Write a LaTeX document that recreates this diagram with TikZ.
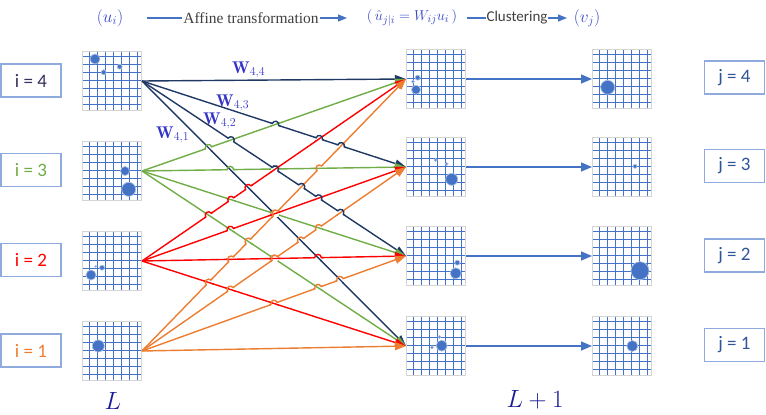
\documentclass[tikz,border=0pt]{standalone}
\usepackage{fontspec}
\newfontfamily\carlito{Carlito}
\newfontfamily\libserif{Liberation Serif}
\usetikzlibrary{arrows.meta}
\definecolor{lc0}{HTML}{203864}
\definecolor{lc1}{HTML}{70AD47}
\definecolor{lc2}{HTML}{FF0000}
\definecolor{lc3}{HTML}{ED7D31}
\definecolor{gridblue}{HTML}{4472C4}
\definecolor{gridline}{HTML}{4472C8}
\definecolor{gridgray}{HTML}{D4D4D4}
\definecolor{boxblue}{HTML}{8FAADC}
\definecolor{mathblue}{HTML}{3545C8}
\definecolor{wblue}{HTML}{3333C8}
\definecolor{txtgray}{HTML}{404040}
\definecolor{jtxt}{HTML}{2F5597}
\definecolor{itxt4}{HTML}{3A2E5C}
\definecolor{Lnavy}{HTML}{1A1A99}
% #1 name, #2 #3 top-left corner (pixels)
\newcommand{\gridat}[3]{%
  \node[gridbox] (#1) at (#2+30,#3+30) {};
  \foreach \k in {0,...,6}{
    \draw[gridline, line width=1.15pt] (#2+7.5+\k*8,#3+1) -- (#2+7.5+\k*8,#3+59);
    \draw[gridline, line width=1.15pt] (#2+1,#3+5.5+\k*8) -- (#2+59,#3+5.5+\k*8);
  }
  \draw[gridgray, line width=1pt] (#2+0.5,#3+0.5) rectangle (#2+59.5,#3+59.5);
}
\begin{document}
\begin{tikzpicture}[x=1pt,y=-1pt,
  gridbox/.style={minimum width=60pt, minimum height=60pt, inner sep=0pt, outer sep=0pt,
    fill=white},
  dot/.style={fill=gridblue, draw=gridblue!45, line width=0.7pt},
  labbox/.style={draw=boxblue, line width=1.2pt, minimum width=60pt, minimum height=33pt,
    inner sep=0pt, font=\carlito\fontsize{19pt}{22pt}\selectfont},
  conn/.style={line width=1.4pt, -{Triangle[length=11pt,width=8pt]}},
  clarrow/.style={gridblue, line width=1.5pt, -{Triangle[length=11pt,width=9pt]}},
  harrow/.style={gridblue, line width=1.2pt, -{Triangle[length=9pt,width=7pt]}},
  hmath/.style={text=mathblue, font=\fontsize{17pt}{20pt}\selectfont, inner sep=0pt},
  wlab/.style={text=wblue, font=\fontsize{17pt}{20pt}\selectfont, inner sep=0pt, anchor=west},
  biglab/.style={text=Lnavy, font=\fontsize{26pt}{30pt}\selectfont, inner sep=0pt}
]
\useasboundingbox (0,0) rectangle (766,415);

% ---------- header ----------
\node[hmath] (u) at (110,18) {$(u_i)$};
\node[hmath, font=\fontsize{15pt}{18pt}\selectfont] (uhat) at (412,18) {$\bigl(\,\hat{u}_{j|i} = W_{ij}u_i\,\bigr)$};
\node[hmath] (v) at (587,18) {$(v_j)$};
\coordinate (h1s) at (147,18);
\coordinate (h1e) at (347,18);
\coordinate (h2s) at (467,18);
\coordinate (h2e) at (567,18);
\draw[harrow] (h1s) -- (h1e) node[pos=0.52, fill=white, inner sep=1pt, text=txtgray,
  font=\libserif\fontsize{15.5pt}{18pt}\selectfont] (aff) {Affine transformation};
\draw[harrow] (h2s) -- (h2e) node[midway, fill=white, inner sep=1pt, text=txtgray,
  font=\carlito\fontsize{15pt}{18pt}\selectfont] (clu) {Clustering};

% ---------- label boxes ----------
\node[labbox, text=itxt4] (i4) at (31,80.5) {i = 4};
\node[labbox, text=lc1] (i3) at (31,170) {i = 3};
\node[labbox, text=lc2] (i2) at (31,260) {i = 2};
\node[labbox, text=lc3] (i1) at (31,350.5) {i = 1};
\node[labbox, text=jtxt] (j4) at (734.5,77.5) {j = 4};
\node[labbox, text=jtxt] (j3) at (734.5,166) {j = 3};
\node[labbox, text=jtxt] (j2) at (734.5,255.5) {j = 2};
\node[labbox, text=jtxt] (j1) at (734.5,345) {j = 1};

% ---------- grids ----------
\gridat{Lg0}{82}{51}
\gridat{Lg1}{82}{141}
\gridat{Lg2}{82}{231}
\gridat{Lg3}{82}{321}
\gridat{Mg0}{406}{49}
\gridat{Mg1}{406}{137}
\gridat{Mg2}{406}{226}
\gridat{Mg3}{406}{316}
\gridat{Rg0}{592}{49}
\gridat{Rg1}{592}{137}
\gridat{Rg2}{592}{226}
\gridat{Rg3}{592}{316}

% ---------- dots ----------
\path[dot] (95,59) circle (5) (103.7,72.3) circle (2.5) (119.7,66.7) circle (2.5);
\path[dot] (125,171) circle (4.5) (128.7,189.3) circle (7);
\path[dot] (91,275) circle (5) (102,267.7) circle (2.5) (95.7,266.3) circle (1);
\path[dot] (98.3,346) circle (6);
\path[dot] (416,89.7) circle (4.5) (417.7,77.7) circle (2.5) (413,81.7) circle (1.5);
\path[dot] (451.7,179.3) circle (6) (446.7,164) circle (1.5) (435.7,160) circle (1.5);
\path[dot] (455.7,273.3) circle (5.5) (457.3,262.7) circle (2.5);
\path[dot] (441.7,345.7) circle (5.5) (439.3,337) circle (1.5) (432,347.3) circle (1.5);
\path[dot] (607.7,87.3) circle (7);
\path[dot] (635,166.3) circle (2);
\path[dot] (640,270.7) circle (9);
\path[dot] (632.3,346) circle (5.5);

% ---------- clustering arrows ----------
\foreach \k in {0,...,3}{
  \draw[clarrow] (Mg\k.east) -- (Rg\k.west);
}

% ---------- connectors ----------
\foreach \a in {0,...,3}{
  \foreach \b in {0,...,3}{
    \draw[conn, color=lc\a] (Lg\a.east) -- (Mg\b.west);
  }
}

% ---------- line hops ----------
\def\SA{{0,1,1,1,1,2,2,2,2,3,3,3,3,0,0,0}}
\def\TB{{3,0,1,2,3,0,1,2,3,0,1,2,3,2,1,0}}
\def\SY{{81,171,261,351}}
\def\TY{{79,167,256,346}}
\foreach \p in {0,...,14}{
  \pgfmathtruncatemacro\pn{\p+1}
  \foreach \q in {\pn,...,15}{
    \pgfmathtruncatemacro\hap{\SA[\p]}
    \pgfmathtruncatemacro\hbp{\TB[\p]}
    \pgfmathtruncatemacro\haq{\SA[\q]}
    \pgfmathtruncatemacro\hbq{\TB[\q]}
    \pgfmathsetmacro\hysp{\SY[\hap]}
    \pgfmathsetmacro\hytp{\TY[\hbp]}
    \pgfmathsetmacro\hysq{\SY[\haq]}
    \pgfmathsetmacro\hytq{\TY[\hbq]}
    \pgfmathsetmacro\hDp{\hytp-\hysp}
    \pgfmathsetmacro\hDq{\hytq-\hysq}
    \pgfmathsetmacro\hden{\hDp-\hDq}
    \pgfmathsetmacro\hT{(\hysq-\hysp)/(\hden+(abs(\hden)<0.001))}
    \pgfmathtruncatemacro\hok{(abs(\hden)>0.001)&&(\hT>0.02)&&(\hT<0.98)}
    \ifnum\hok=1
      \pgfmathsetmacro\hpx{142+264*\hT}
      \pgfmathsetmacro\hpy{\hysp+\hDp*\hT}
      \pgfmathsetmacro\hthq{atan2(\hDq,264)}
      \pgfmathsetmacro\hthp{atan2(\hDp,264)}
      \fill[white] (\hpx,\hpy) circle (4);
      \draw[lc\hap, line width=1.4pt] (\hpx,\hpy) ++(\hthp:4.9) -- ++(\hthp+180:9.8);
      \draw[lc\haq, line width=1.4pt] (\hpx,\hpy) ++(\hthq+180:4.9) -- ++(\hthq:1.6)
        arc[start angle=\hthq+180, end angle=\hthq+360, radius=3.3] -- ++(\hthq:1.6);
    \fi
  }
}

% ---------- weight labels ----------
\node[wlab] (w44) at (232,70) {$\mathbf{W}_{4,4}$};
\node[wlab] (w43) at (216,103) {$\mathbf{W}_{4,3}$};
\node[wlab] (w42) at (203,121) {$\mathbf{W}_{4,2}$};
\node[wlab] (w41) at (156,135) {$\mathbf{W}_{4,1}$};

% ---------- layer labels ----------
\node[biglab] (Lay) at (113,401) {$L$};
\node[biglab] (Lay1) at (535,400) {$L+1$};
\end{tikzpicture}
\end{document}
